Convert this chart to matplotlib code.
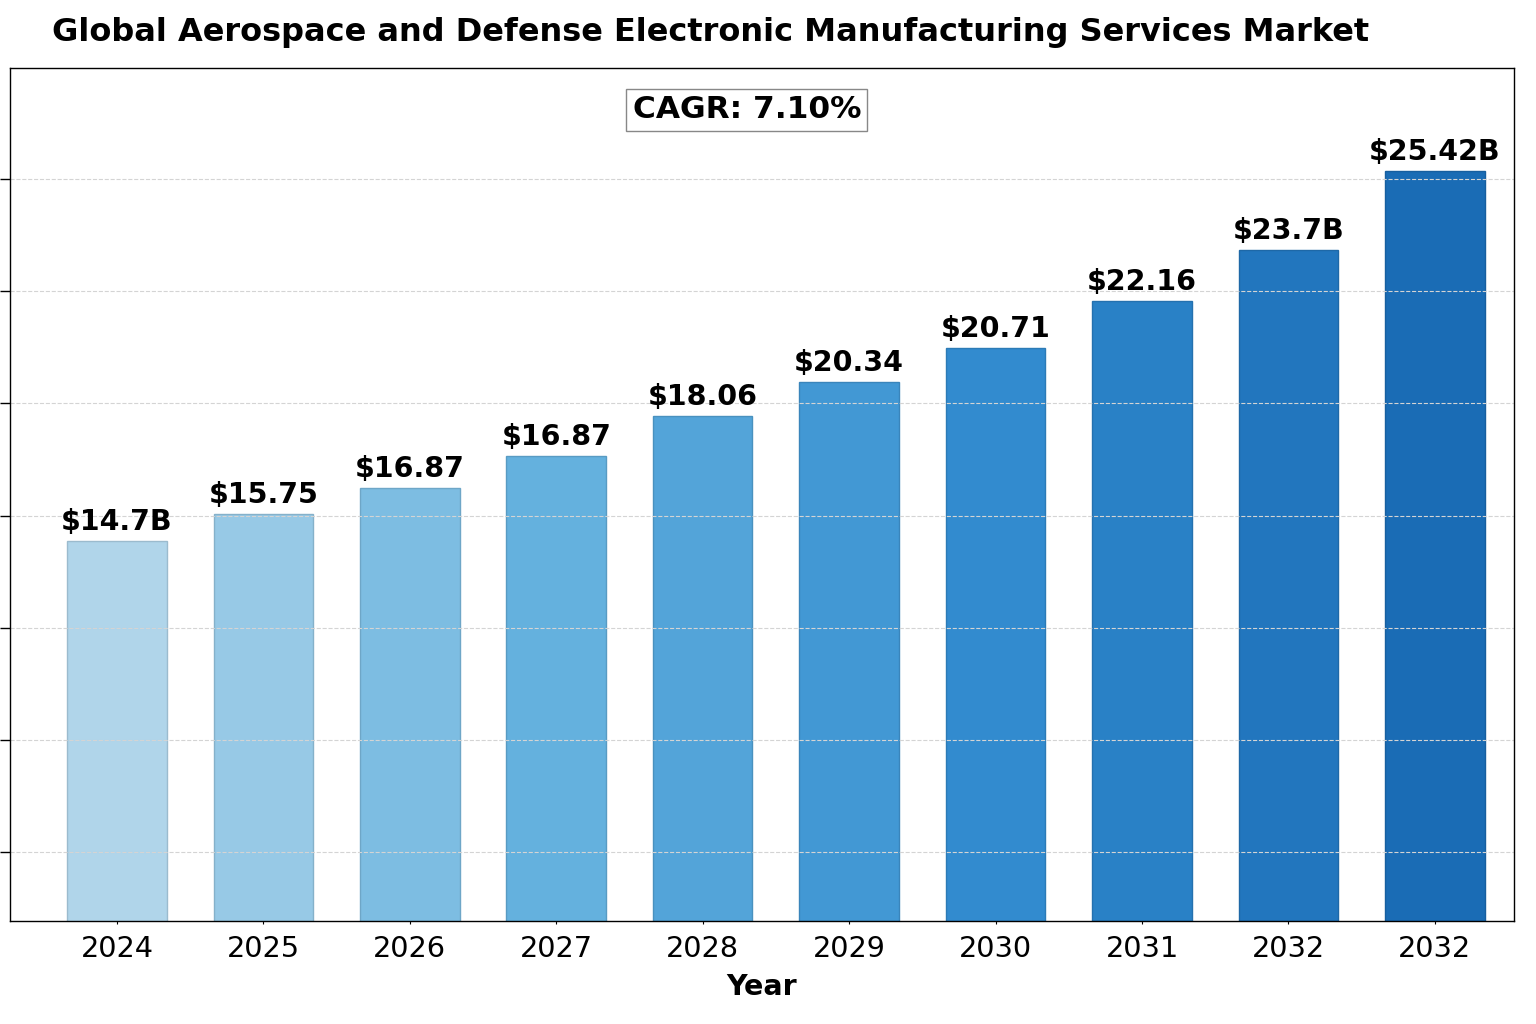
import numpy as np
import matplotlib
matplotlib.use("Agg")
import matplotlib.pyplot as plt
from matplotlib import colors as mcolors

# ---- data ----
years = ["2024", "2025", "2026", "2027", "2028", "2029", "2030", "2031", "2032", "2032"]
values = [14.70, 15.48, 16.23, 17.16, 18.32, 19.30, 20.29, 21.65, 23.13, 25.42]
value_labels = ["$14.7B", "$15.75", "$16.87", "$16.87", "$18.06", "$20.34",
                "$20.71", "$22.16", "$23.7B", "$25.42B"]
y_ticks = [5.69, 8.94, 12.19, 15.44, 18.69, 21.94, 25.19]
title = "Global Aerospace and Defense Electronic Manufacturing Services Market"
cagr_text = "CAGR: 7.10%"

plt.rcParams['font.family'] = ['DejaVu Sans']

fig = plt.figure(figsize=(15.36, 10.24), dpi=100)
ax = fig.add_axes([10/1536, 1-921/1024, 1504/1536, 853/1024])

x = np.arange(len(years))
cmap = mcolors.LinearSegmentedColormap.from_list(
    "grad", [(0.0, "#b0d5ea"), (0.33, "#64b1de"), (0.67, "#318bcf"), (1.0, "#1a6cb5")])
cols = [cmap(v) for v in np.linspace(0, 1, len(years))]
edges = [tuple(np.clip(np.array(mcolors.to_rgb(c)) * 0.88, 0, 1)) for c in cols]

ax.bar(x, values, width=0.68, color=cols, edgecolor=edges, linewidth=1.0, zorder=2)

for xi, v, lab in zip(x, values, value_labels):
    ax.annotate(lab, (xi, v), xytext=(0, 4), textcoords="offset points",
                ha="center", va="bottom", fontsize=20.5, fontweight="bold", zorder=4)

ax.set_xlim(-0.73, len(years) - 1 + 0.54)
ax.set_ylim(3.69, 28.41)
ax.set_xticks(x)
ax.set_xticklabels(years, fontsize=20.7)
ax.set_yticks(y_ticks)
ax.set_yticklabels([])
ax.tick_params(axis="y", length=7, width=1)
ax.tick_params(axis="x", length=2, width=0.8, pad=8)
ax.yaxis.grid(True, linestyle="--", color="#d4d4d4", linewidth=0.8, zorder=3)
ax.set_axisbelow(False)
for s in ax.spines.values():
    s.set_linewidth(1.0)
    s.set_zorder(5)

ax.set_xlabel("Year", fontsize=20.5, fontweight="bold", labelpad=7)

ax.text(0.49, 0.951, cagr_text, transform=ax.transAxes, ha="center", va="center",
        fontsize=22.5, fontweight="bold",
        bbox=dict(boxstyle="square,pad=0.2", facecolor="white", edgecolor="#888888", linewidth=1))

fig.text(52/1536, 1-32/1024, title, ha="left", va="center", fontsize=23, fontweight="bold")

fig.savefig("out.png", dpi=100)
